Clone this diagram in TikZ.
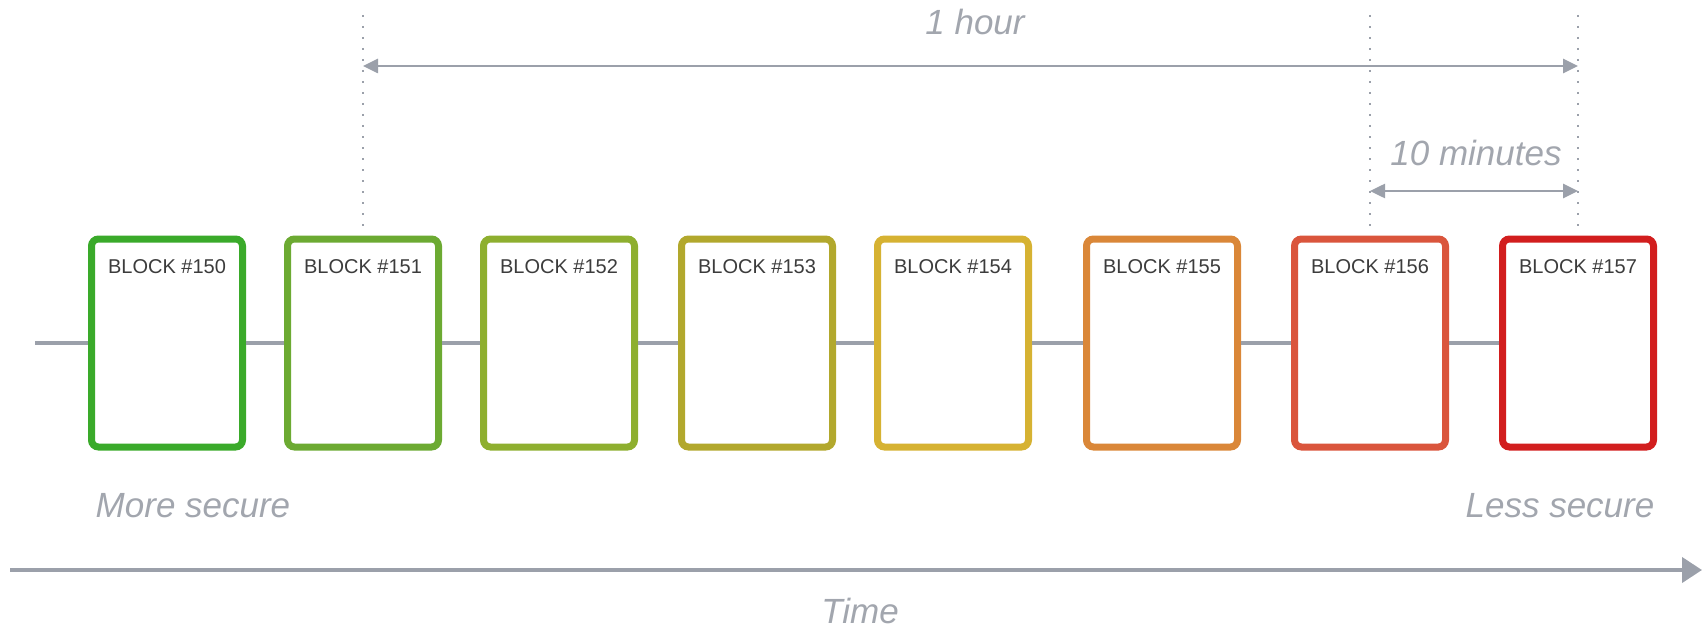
\documentclass[tikz,border=0pt]{standalone}
\usepackage{fontspec}
\setmainfont{Liberation Sans}
\usetikzlibrary{arrows.meta}

\definecolor{axisgray}{HTML}{9BA0AA}
\definecolor{captiongray}{HTML}{A2A6AE}
\definecolor{blocktxt}{HTML}{3C3C3C}
\definecolor{c150}{HTML}{3AAA2A}
\definecolor{c151}{HTML}{6CAA32}
\definecolor{c152}{HTML}{8EAF2F}
\definecolor{c153}{HTML}{B2A82D}
\definecolor{c154}{HTML}{D6B232}
\definecolor{c155}{HTML}{DA8738}
\definecolor{c156}{HTML}{DA553C}
\definecolor{c157}{HTML}{D21E1E}

\begin{document}
\begin{tikzpicture}[x=0.5pt,y=-0.5pt,
  block/.style={draw=#1, line width=3.5pt, rounded corners=3.5pt,
    minimum width=75.5pt, minimum height=104pt, inner sep=0pt, fill=white},
  blocktext/.style={anchor=base, text=blocktxt, inner sep=0pt,
    font=\fontsize{10pt}{12pt}\selectfont},
  chainline/.style={draw=axisgray, line width=2pt},
  guide/.style={draw=axisgray, line width=1.3pt, dash pattern=on 1pt off 4.5pt},
  span/.style={draw=axisgray, line width=1.3pt,
    {Triangle[length=7.5pt,width=7pt]}-{Triangle[length=7.5pt,width=7pt]}},
  timeaxis/.style={draw=axisgray, line width=2pt,
    -{Triangle[length=10pt,width=12.5pt]}},
  caption/.style={anchor=base, text=captiongray, inner sep=0pt,
    font=\fontsize{17.5pt}{21pt}\selectfont\itshape},
]
\useasboundingbox (0,0) rectangle (1702,631);

% the chain of blocks
\foreach \n/\x in {150/167,151/363,152/559,153/757,154/953,155/1162,156/1370,157/1578}{
  \node[block=c\n] (b\n) at (\x,343) {};
  \node[blocktext] (t\n) at (\x,273) {BLOCK \#\n};
}

% links between consecutive blocks
\coordinate (chainstart) at (35,343);
\draw[chainline] (chainstart) -- (b150.west);
\foreach \a/\b in {150/151,151/152,152/153,153/154,154/155,155/156,156/157}{
  \draw[chainline] (b\a.east) -- (b\b.west);
}

% dotted guides above the blocks
\coordinate (toprow) at (0,15);
\coordinate (hourrow) at (0,66);
\coordinate (minrow) at (0,191);
\foreach \n in {151,156,157}{
  \draw[guide, shorten >=3.5pt] (b\n |- toprow) -- (b\n.north);
}

% time spans
\draw[span] (b151 |- hourrow) -- (b157 |- hourrow);
\node[caption] (hour) at (975,35) {1 hour};
\draw[span] (b156 |- minrow) -- (b157 |- minrow);
\node[caption] (minutes) at (1476,165) {10 minutes};

% security captions
\node[caption] (more) at (193,517) {More secure};
\node[caption] (less) at (1560,517) {Less secure};

% time axis
\coordinate (t0) at (10,570);
\coordinate (t1) at (1702,570);
\draw[timeaxis] (t0) -- (t1);
\node[caption] (time) at (860,623) {Time};
\end{tikzpicture}
\end{document}
